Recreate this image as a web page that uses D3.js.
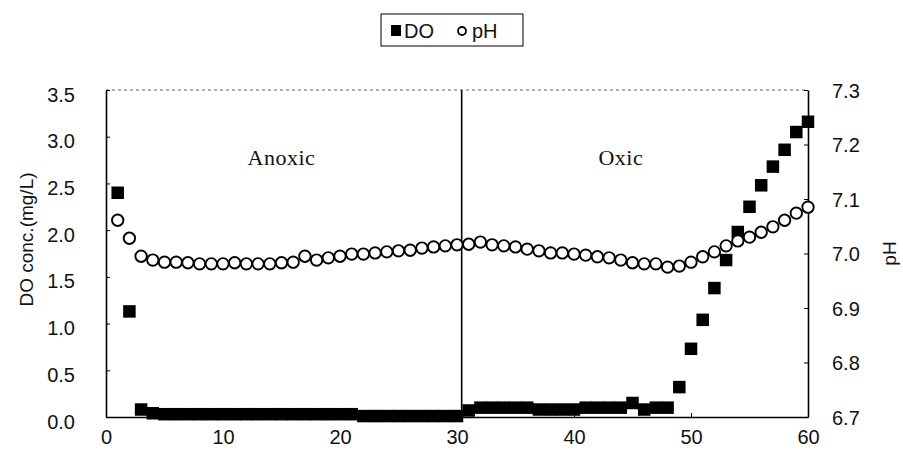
<!DOCTYPE html>
<html>
<head>
<meta charset="utf-8">
<script src="https://cdn.jsdelivr.net/npm/d3@7"></script>
<style>
  html, body { margin: 0; padding: 0; background: #fff; }
  svg { display: block; }
  text { font-family: "Liberation Sans", Arial, sans-serif; fill: #111; }
</style>
</head>
<body>
<svg id="chart" width="903" height="468"></svg>
<script>
// ---- data ----
const time = d3.range(1, 61);
const doConc = [2.40, 1.13, 0.08, 0.04, 0.03, 0.03, 0.03, 0.03, 0.03, 0.03,
                0.03, 0.03, 0.03, 0.03, 0.03, 0.03, 0.03, 0.03, 0.03, 0.03,
                0.03, 0.01, 0.01, 0.01, 0.01, 0.01, 0.01, 0.01, 0.01, 0.01,
                0.07, 0.10, 0.10, 0.10, 0.10, 0.10, 0.08, 0.08, 0.08, 0.08,
                0.10, 0.10, 0.10, 0.10, 0.15, 0.08, 0.10, 0.10, 0.32, 0.73,
                1.04, 1.38, 1.68, 1.98, 2.25, 2.48, 2.68, 2.86, 3.05, 3.16];
const pH = [7.061, 7.028, 6.995, 6.988, 6.984, 6.984, 6.983, 6.981, 6.981, 6.981,
            6.983, 6.981, 6.981, 6.981, 6.983, 6.984, 6.995, 6.988, 6.992, 6.995,
            6.999, 6.999, 7.001, 7.003, 7.005, 7.006, 7.010, 7.012, 7.014, 7.016,
            7.017, 7.021, 7.016, 7.014, 7.012, 7.008, 7.005, 7.001, 7.001, 6.999,
            6.997, 6.994, 6.992, 6.988, 6.983, 6.981, 6.981, 6.975, 6.977, 6.984,
            6.994, 7.003, 7.014, 7.023, 7.030, 7.039, 7.049, 7.061, 7.074, 7.085];
const xTicks = [0, 10, 20, 30, 40, 50, 60];
const doTicks = [0, 0.5, 1.0, 1.5, 2.0, 2.5, 3.0, 3.5];
const pHTicks = [6.7, 6.8, 6.9, 7.0, 7.1, 7.2, 7.3];
const phaseLabels = ["Anoxic", "Oxic"];
const phaseCenters = [15, 44];
const phaseSplit = 30.4;
const legendLabels = ["DO", "pH"];
const yTitleLeft = "DO conc.(mg/L)";
const yTitleRight = "pH";

// ---- layout ----
const L = 106, R = 808, T = 90, B = 417;
const svg = d3.select("#chart");
const x = d3.scaleLinear().domain([0, 60]).range([L, R]);
const yL = d3.scaleLinear().domain([0, 3.5]).range([B, T]);
const yR = d3.scaleLinear().domain([6.7, 7.3]).range([B, T]);

// top border (faint dotted)
svg.append("line").attr("x1", L).attr("x2", R).attr("y1", T).attr("y2", T)
  .attr("stroke", "#666").attr("stroke-width", 1).attr("stroke-dasharray", "3,3");

// axes
const axL = d3.axisLeft(yL).tickValues(doTicks).tickFormat(d3.format(".1f")).tickSizeInner(-4).tickSizeOuter(0).tickPadding(31);
const axR = d3.axisRight(yR).tickValues(pHTicks).tickFormat(d3.format(".1f")).tickSizeInner(-4).tickSizeOuter(0).tickPadding(24);
const axB = d3.axisBottom(x).tickValues(xTicks).tickFormat(d3.format("d")).tickSizeInner(-4).tickSizeOuter(0).tickPadding(13);

function styleAxis(g) {
  g.select(".domain").attr("stroke", "#000").attr("stroke-width", 1.6);
  g.selectAll(".tick line").attr("stroke", "#000").attr("stroke-width", 1);
  g.selectAll(".tick text").style("font-family", "'Liberation Sans', Arial, sans-serif")
    .style("font-size", "20px").attr("fill", "#111");
}
svg.append("g").attr("transform", `translate(${L},0)`).call(axL).call(styleAxis)
  .selectAll(".tick text").attr("dy", "0.55em");
svg.append("g").attr("transform", `translate(${R},0)`).call(axR).call(styleAxis)
  .selectAll(".tick text").attr("dy", "0.35em");
svg.append("g").attr("transform", `translate(0,${B})`).call(axB).call(styleAxis);

// phase divider
svg.append("line").attr("x1", x(phaseSplit)).attr("x2", x(phaseSplit))
  .attr("y1", yL(3.5)).attr("y2", yL(0)).attr("stroke", "#000").attr("stroke-width", 1.6);

// phase labels
svg.selectAll(".phase").data(phaseLabels).join("text")
  .attr("class", "phase")
  .attr("x", (d, i) => x(phaseCenters[i]))
  .attr("y", yL(2.7))
  .attr("text-anchor", "middle")
  .style("font-family", "'Liberation Serif', 'Times New Roman', serif")
  .style("font-size", "22px")
  .style("letter-spacing", "0.5px")
  .text(d => d);

// DO squares
const sq = 12.5;
svg.append("g").selectAll("rect").data(time).join("rect")
  .attr("x", (d) => x(d) - sq / 2)
  .attr("y", (d, i) => yL(doConc[i]) - sq / 2)
  .attr("width", sq).attr("height", sq)
  .attr("fill", "#000");

// pH circles
svg.append("g").selectAll("circle").data(time).join("circle")
  .attr("cx", d => x(d))
  .attr("cy", (d, i) => yR(pH[i]))
  .attr("r", 5.7)
  .attr("fill", "#fff").attr("stroke", "#000").attr("stroke-width", 1.9);

// axis titles
svg.append("text")
  .attr("transform", `translate(26,${(T + B) / 2 - 14}) rotate(-90)`)
  .attr("text-anchor", "middle").attr("dy", "0.35em")
  .style("font-size", "19px").text(yTitleLeft);
svg.append("text")
  .attr("transform", `translate(889,${yR(7.0)}) rotate(-90)`)
  .attr("text-anchor", "middle").attr("dy", "0.35em")
  .style("font-size", "19px").text(yTitleRight);

// legend
const lg = svg.append("g");
lg.append("rect").attr("x", 381).attr("y", 14).attr("width", 142).attr("height", 32)
  .attr("fill", "#fff").attr("stroke", "#000").attr("stroke-width", 1);
lg.append("rect").attr("x", 391).attr("y", 25).attr("width", 10).attr("height", 11).attr("fill", "#000");
lg.append("text").attr("x", 404).attr("y", 31).attr("dy", "0.35em")
  .style("font-size", "20px").text(legendLabels[0]);
lg.append("circle").attr("cx", 462).attr("cy", 31).attr("r", 4)
  .attr("fill", "#fff").attr("stroke", "#000").attr("stroke-width", 1.8);
lg.append("text").attr("x", 472).attr("y", 31).attr("dy", "0.35em")
  .style("font-size", "20px").text(legendLabels[1]);
</script>
</body>
</html>
